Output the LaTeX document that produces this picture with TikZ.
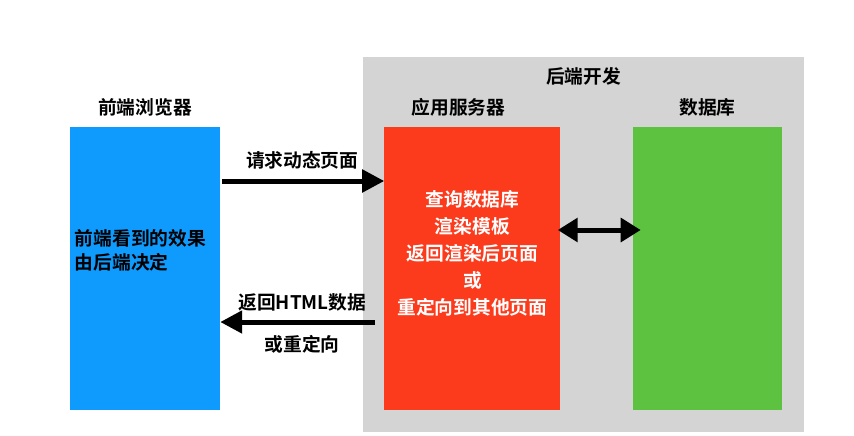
\documentclass[tikz,border=0pt]{standalone}
\usepackage{fontspec}
\setmainfont{Noto Sans CJK SC}[BoldFont={Noto Sans CJK SC Bold}]
\usetikzlibrary{arrows.meta,positioning}
\definecolor{browserblue}{HTML}{0F9BFE}
\definecolor{serverred}{HTML}{FC3A1C}
\definecolor{dbgreen}{HTML}{5CC23F}
\definecolor{backendgray}{HTML}{D4D4D4}

\begin{document}
\begin{tikzpicture}[x=0.03cm,y=-0.03cm,
    every node/.style={align=center,font=\fontsize{16}{23}\selectfont\bfseries},
    tier/.style={minimum height=8.49cm,inner sep=0pt},
    flow/.style={-{Triangle[length=0.66cm,width=0.66cm]},line width=0.15cm},
    sync/.style={{Triangle[length=0.6cm,width=0.7cm]}-{Triangle[length=0.6cm,width=0.7cm]},line width=0.15cm}]
  \useasboundingbox (0,0) rectangle (854,435);
  % backend area
  \node[fill=backendgray,minimum width=13.23cm,minimum height=11.25cm,inner sep=0pt] (backend) at (583.5,244.5) {};
  \node[below=0.2cm of backend.north] (backendTitle) {后端开发};
  % the three tiers
  \node[tier,fill=browserblue,minimum width=4.5cm] (browser) at (145,268.5) {};
  \node[tier,fill=serverred,minimum width=5.28cm,right=4.92cm of browser] (server) {};
  \node[tier,fill=dbgreen,minimum width=4.47cm,right=2.16cm of server] (db) {};
  \node[above=0.2cm of browser] (browserTitle) {前端浏览器};
  \node[above=0.2cm of server,xshift=-0.42cm] (serverTitle) {应用服务器};
  \node[above=0.2cm of db] (dbTitle) {数据库};
  \node[anchor=west,align=left,inner sep=0pt,font=\fontsize{16}{21}\selectfont\bfseries]
        (browserText) at ([xshift=0.15cm,yshift=0.54cm]browser.west) {前端看到的效果\\由后端决定};
  \node[text=white,inner sep=0pt] (serverText) at ([yshift=0.45cm]server.center)
        {查询数据库\\渲染模板\\返回渲染后页面\\或\\重定向到其他页面};
  % requests and responses
  \draw[flow,shorten <=0.06cm] ([yshift=2.625cm]browser.east) -- node[above=5pt]{请求动态页面} ([yshift=2.625cm]server.west);
  \draw[flow,shorten <=0.27cm] ([yshift=-1.605cm]server.west) -- node[above=4pt]{返回HTML数据} node[below=6pt]{或重定向} ([yshift=-1.605cm]browser.east);
  \draw[sync,shorten <=-0.09cm,shorten >=-0.24cm] ([yshift=1.155cm]server.east) -- ([yshift=1.155cm]db.west);
\end{tikzpicture}
\end{document}
